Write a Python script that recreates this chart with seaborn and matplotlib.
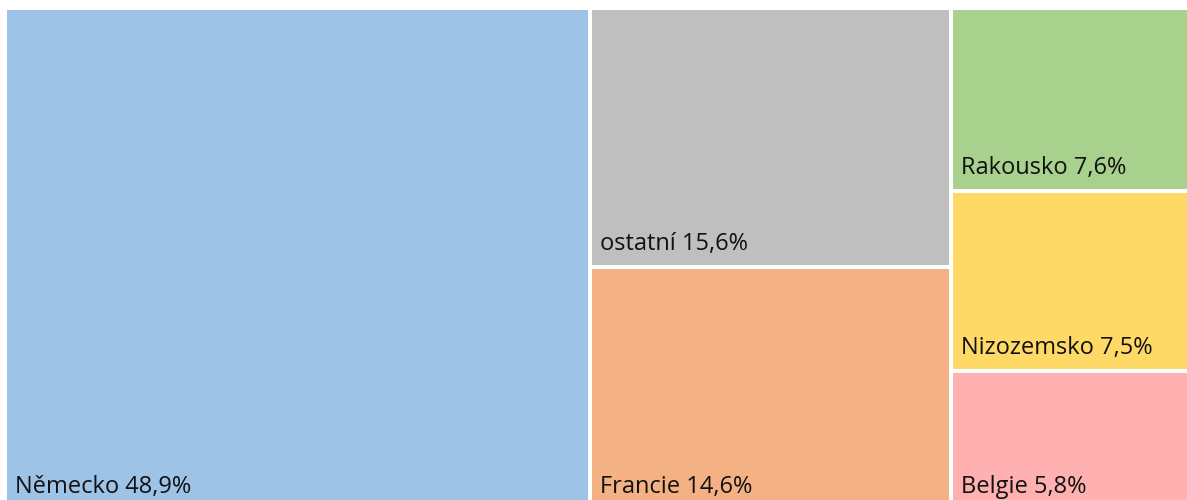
import matplotlib
matplotlib.use("Agg")
import matplotlib.pyplot as plt
from matplotlib.patches import Rectangle
import seaborn as sns

# share of exports by country (%)
countries = ["Německo", "ostatní", "Francie", "Rakousko", "Nizozemsko", "Belgie"]
shares = [48.9, 15.6, 14.6, 7.6, 7.5, 5.8]
colors = ["#9DC3E6", "#BFBFBF", "#F4B183", "#A9D18E", "#FFD966", "#FFB0B0"]


def worst(row, side):
    s = sum(row)
    return max(max(side * side * r / (s * s), s * s / (side * side * r)) for r in row)


def squarify(values, x, y, w, h):
    total = sum(values)
    vals = [v * w * h / total for v in values]
    rects = []
    while vals:
        side = min(w, h)
        row = [vals[0]]
        i = 1
        while i < len(vals) and worst(row + [vals[i]], side) <= worst(row, side):
            row.append(vals[i])
            i += 1
        vals = vals[i:]
        s = sum(row)
        if w >= h:
            cw = s / h
            yy = y
            for v in row:
                rects.append((x, yy, cw, v / cw))
                yy += v / cw
            x += cw
            w -= cw
        else:
            rh = s / w
            xx = x
            for v in row:
                rects.append((xx, y, v / rh, rh))
                xx += v / rh
            y += rh
            h -= rh
    return rects


sns.set_theme(style="white")
plt.rcParams["font.family"] = ["Open Sans", "DejaVu Sans"]

fig = plt.figure(figsize=(11.87, 5), dpi=100)
ax = fig.add_axes([0, 0, 1, 1])
ax.set_xlim(0, 1187)
ax.set_ylim(500, 0)
ax.axis("off")

# treemap area is a bit larger than the visible figure (cropped right/bottom)
rects = squarify(shares, 5, 8, 1196, 502)
for (x, y, w, h), name, val, col in zip(rects, countries, shares, colors):
    ax.add_patch(Rectangle((x, y), w, h, facecolor=col, edgecolor="white", linewidth=2.9))
    label = f"{name} {val:.1f}%".replace(".", ",")
    ax.annotate(label, xy=(x, y + h), xytext=(10, 17), textcoords="offset pixels",
                ha="left", va="baseline", fontsize=17, color="#111111",
                annotation_clip=False)

fig.savefig("out.png", dpi=100)
